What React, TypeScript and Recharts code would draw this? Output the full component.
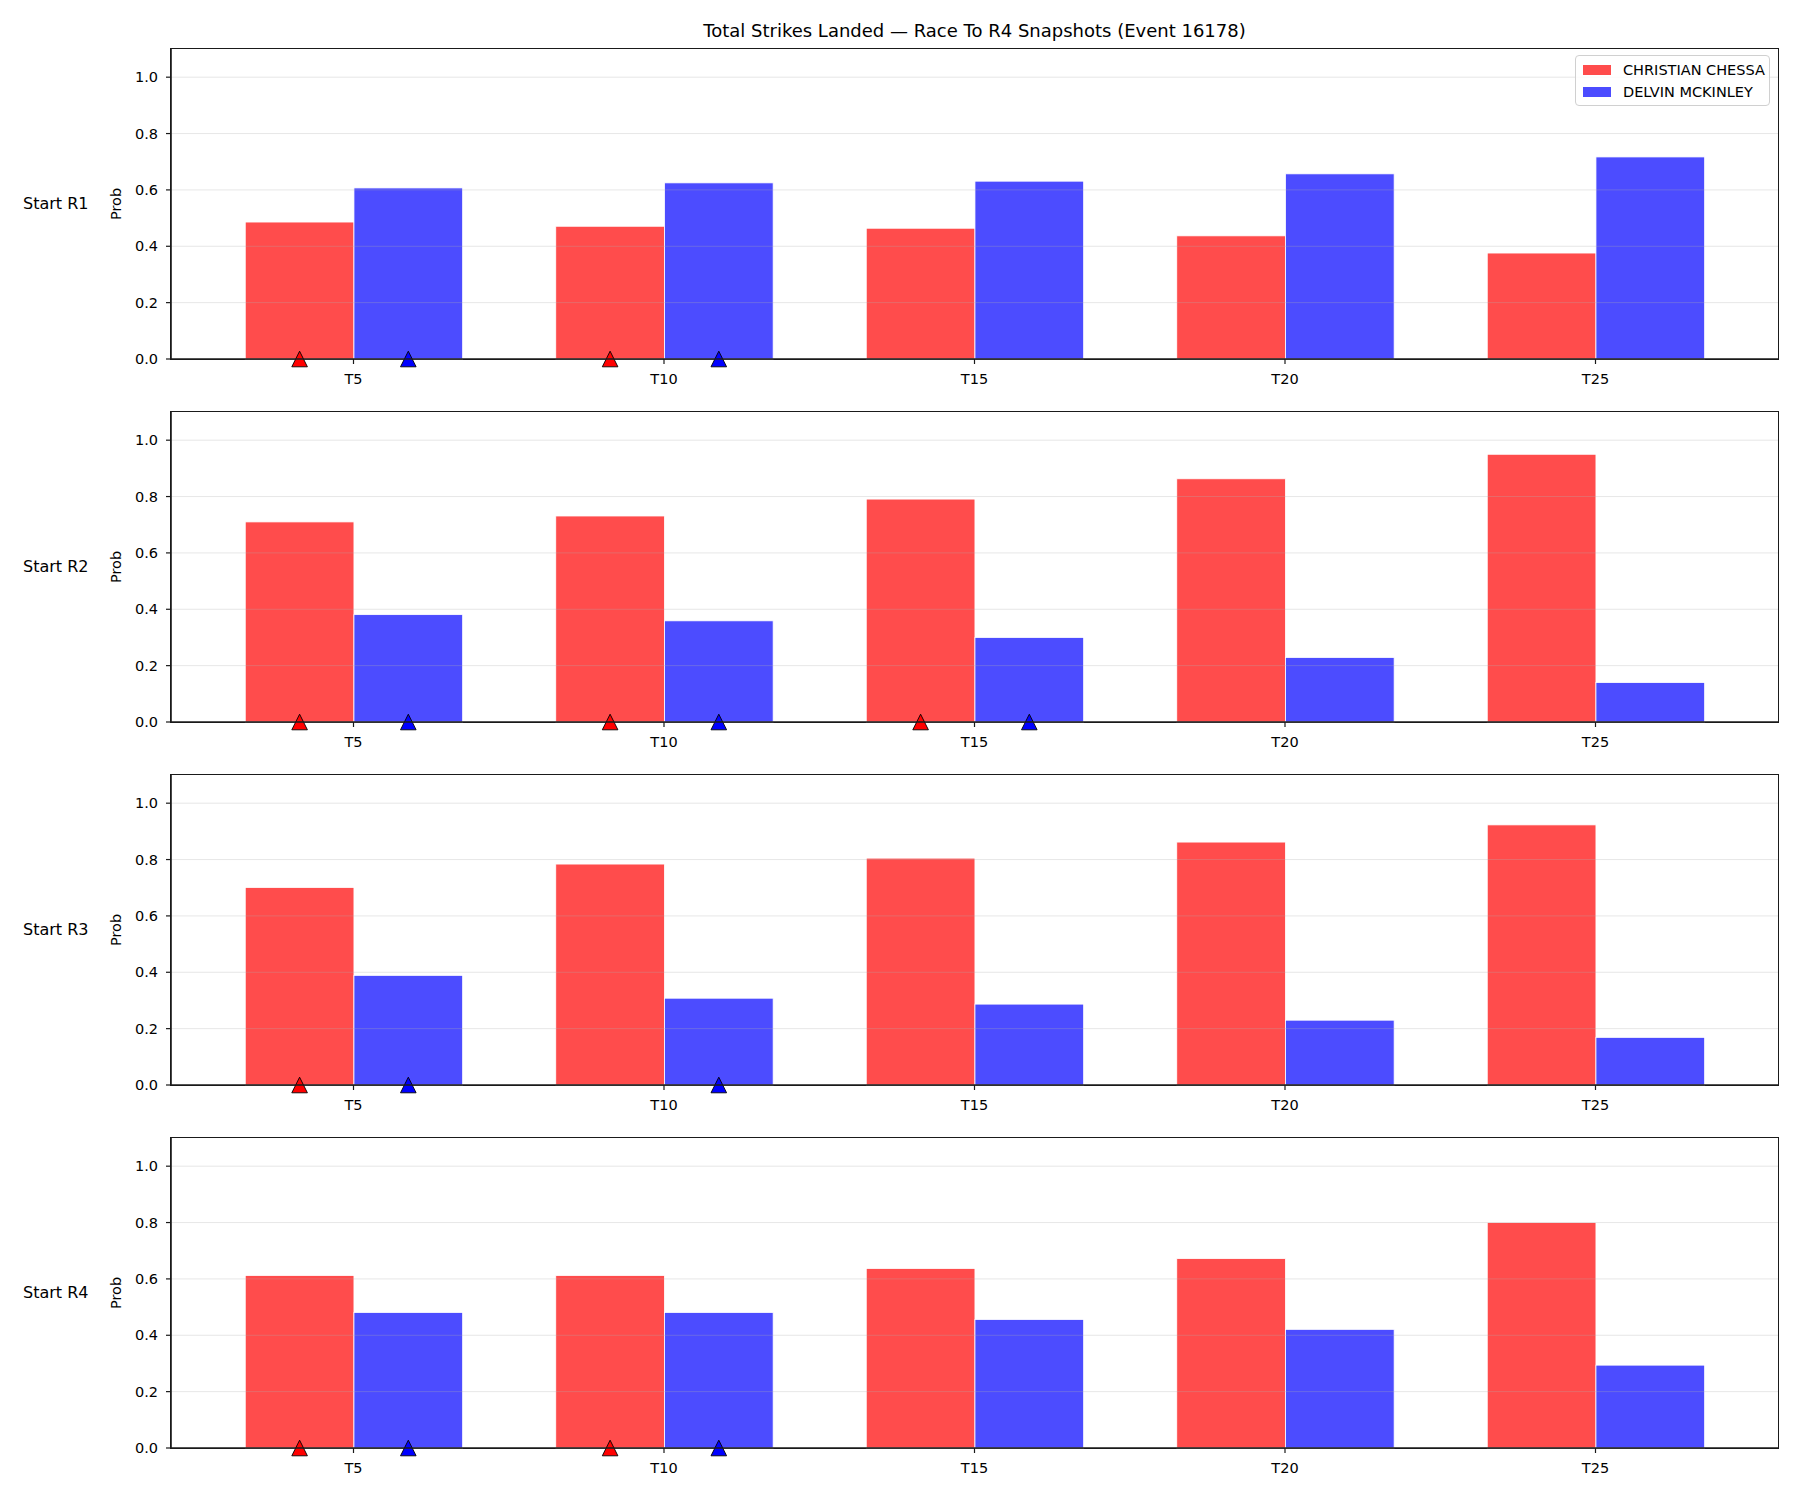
import React from 'react';
import { BarChart, Bar, XAxis, YAxis, ReferenceLine } from 'recharts';

const categories = ['T5', 'T10', 'T15', 'T20', 'T25'];
const roundLabels = ['Start R1', 'Start R2', 'Start R3', 'Start R4'];
const seriesNames = ['CHRISTIAN CHESSA', 'DELVIN MCKINLEY'];
const yTicks = [0, 0.2, 0.4, 0.6, 0.8, 1.0];

const chessaR1 = [0.486, 0.471, 0.464, 0.437, 0.376];
const mckinleyR1 = [0.607, 0.625, 0.631, 0.657, 0.717];
const chessaR2 = [0.71, 0.731, 0.791, 0.863, 0.95];
const mckinleyR2 = [0.381, 0.359, 0.3, 0.229, 0.14];
const chessaR3 = [0.701, 0.784, 0.805, 0.862, 0.923];
const mckinleyR3 = [0.389, 0.308, 0.287, 0.23, 0.169];
const chessaR4 = [0.612, 0.612, 0.637, 0.672, 0.8];
const mckinleyR4 = [0.481, 0.481, 0.456, 0.421, 0.294];

// markers (triangles at the base) shown per category
const chessaMarkR1 = [true, true, false, false, false];
const mckinleyMarkR1 = [true, true, false, false, false];
const chessaMarkR2 = [true, true, true, false, false];
const mckinleyMarkR2 = [true, true, true, false, false];
const chessaMarkR3 = [true, false, false, false, false];
const mckinleyMarkR3 = [true, true, false, false, false];
const chessaMarkR4 = [true, true, false, false, false];
const mckinleyMarkR4 = [true, true, false, false, false];

const panels = [
  { label: roundLabels[0], a: chessaR1, b: mckinleyR1, ma: chessaMarkR1, mb: mckinleyMarkR1 },
  { label: roundLabels[1], a: chessaR2, b: mckinleyR2, ma: chessaMarkR2, mb: mckinleyMarkR2 },
  { label: roundLabels[2], a: chessaR3, b: mckinleyR3, ma: chessaMarkR3, mb: mckinleyMarkR3 },
  { label: roundLabels[3], a: chessaR4, b: mckinleyR4, ma: chessaMarkR4, mb: mckinleyMarkR4 },
];

const FONT = 'DejaVu Sans';
const PLOT_TOPS = [49, 412, 775, 1138];
const PLOT_H = 310;
const PLOT_LEFT = 171;
const PLOT_RIGHT = 1778;
const YAXIS_W = 60;
const XAXIS_H = 30;
const MT = 10;
const MB = 10;
const PAD = 27.25;
const AXIS_COLOR = '#1a1a1a';

const makeShape = (flagKey: string, markerColor: string) => (props: any) => {
  const { x, y, width, height, payload, fill } = props;
  const cx = x + width / 2;
  const cy = y + height;
  const s = 7.8;
  return (
    <g>
      <rect x={x} y={y} width={width} height={height} fill={fill} fillOpacity={0.7} stroke="#ffffff" strokeWidth={0.8} />
      {payload && payload[flagKey] ? (
        <polygon
          points={`${cx},${cy - s} ${cx - s},${cy + s} ${cx + s},${cy + s}`}
          fill={markerColor}
          fillOpacity={1}
          stroke="#000"
          strokeWidth={0.9}
        />
      ) : null}
    </g>
  );
};

const Panel = ({ p, top }: any) => {
  const data = categories.map((c, i) => ({
    cat: c,
    chessa: p.a[i],
    mckinley: p.b[i],
    markA: p.ma[i],
    markB: p.mb[i],
  }));
  const chartH = MT + PLOT_H + XAXIS_H + MB;
  const midY = MT + PLOT_H / 2;
  return (
    <div style={{ position: 'absolute', left: 0, top: top - MT, width: 1800, height: chartH }}>
      <div
        style={{
          position: 'absolute',
          left: PLOT_LEFT - 0.8,
          top: MT - 0.8,
          width: PLOT_RIGHT - PLOT_LEFT + 1.6,
          height: PLOT_H + 1.6,
          boxSizing: 'border-box',
          border: `1.6px solid ${AXIS_COLOR}`,
          pointerEvents: 'none',
        }}
      />
      <BarChart
        width={1800}
        height={chartH}
        data={data}
        margin={{ top: MT, right: 1800 - PLOT_RIGHT, bottom: MB, left: PLOT_LEFT - YAXIS_W }}
        barGap={0}
        style={{ position: 'absolute', left: 0, top: 0 }}
      >
        <XAxis
          dataKey="cat"
          padding={{ left: PAD, right: PAD }}
          height={XAXIS_H}
          tickSize={5}
          tickMargin={10}
          axisLine={{ stroke: AXIS_COLOR, strokeWidth: 1.6 }}
          tickLine={{ stroke: AXIS_COLOR, strokeWidth: 1.2 }}
          tick={{ fontSize: 14.5, fill: '#000', fontFamily: FONT }}
          interval={0}
        />
        <YAxis
          width={YAXIS_W}
          domain={[0, 1.1]}
          ticks={yTicks}
          tickFormatter={(v: number) => v.toFixed(1)}
          tickSize={5}
          tickMargin={8}
          axisLine={{ stroke: AXIS_COLOR, strokeWidth: 1.6 }}
          tickLine={{ stroke: AXIS_COLOR, strokeWidth: 1.2 }}
          tick={{ fontSize: 14.5, fill: '#000', fontFamily: FONT }}
        />
        {yTicks.slice(1).map((t) => (
          <ReferenceLine key={t} y={t} stroke="#b0b0b0" strokeOpacity={0.3} strokeWidth={1} />
        ))}
        <Bar
          dataKey="chessa"
          name={seriesNames[0]}
          fill="#ff0000"
          barSize={108.7}
          isAnimationActive={false}
          shape={makeShape('markA', '#ff0000')}
        />
        <Bar
          dataKey="mckinley"
          name={seriesNames[1]}
          fill="#0000ff"
          barSize={108.7}
          isAnimationActive={false}
          shape={makeShape('markB', '#0000ff')}
        />
      </BarChart>
      <div
        style={{
          position: 'absolute',
          left: 23,
          top: midY - 11,
          fontFamily: FONT,
          fontSize: 16,
          lineHeight: '22px',
          color: '#000',
          whiteSpace: 'nowrap',
        }}
      >
        {p.label}
      </div>
      <div
        style={{
          position: 'absolute',
          left: 116 - 40,
          top: midY - 10,
          width: 80,
          height: 20,
          lineHeight: '20px',
          textAlign: 'center',
          fontFamily: FONT,
          fontSize: 14.5,
          color: '#000',
          transform: 'rotate(-90deg)',
        }}
      >
        Prob
      </div>
    </div>
  );
};

const Legend = () => (
  <div
    style={{
      position: 'absolute',
      left: 1575,
      top: 55,
      width: 195,
      height: 51,
      boxSizing: 'border-box',
      border: '1px solid #d0d0d0',
      borderRadius: 4,
      background: 'rgba(255,255,255,0.8)',
      fontFamily: FONT,
      fontSize: 14.5,
      color: '#000',
    }}
  >
    {seriesNames.map((n, i) => (
      <div key={n} style={{ position: 'absolute', left: 7, top: 4 + i * 22, height: 20, display: 'flex', alignItems: 'center', whiteSpace: 'nowrap' }}>
        <span
          style={{
            display: 'inline-block',
            width: 28,
            height: 10,
            background: i === 0 ? 'rgba(255,0,0,0.7)' : 'rgba(0,0,255,0.7)',
            marginRight: 12,
          }}
        />
        <span style={{ lineHeight: '20px' }}>{n}</span>
      </div>
    ))}
  </div>
);

export default function App() {
  return (
    <div style={{ position: 'absolute', left: 0, top: 0, width: 1800, height: 1500, background: '#fff', overflow: 'hidden' }}>
      <div
        style={{
          position: 'absolute',
          left: PLOT_LEFT,
          width: PLOT_RIGHT - PLOT_LEFT,
          top: 20,
          textAlign: 'center',
          fontFamily: FONT,
          fontSize: 18,
          lineHeight: '22px',
          color: '#000',
        }}
      >
        Total Strikes Landed — Race To R4 Snapshots (Event 16178)
      </div>
      {panels.map((p, i) => (
        <Panel key={p.label} p={p} top={PLOT_TOPS[i]} />
      ))}
      <Legend />
    </div>
  );
}
